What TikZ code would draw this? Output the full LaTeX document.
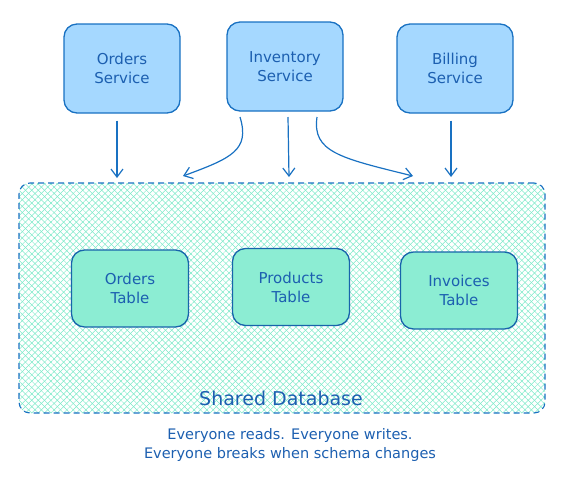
\documentclass[tikz,border=0pt]{standalone}
\usepackage{fontspec}
\setmainfont{DejaVu Sans}
\usetikzlibrary{arrows.meta,patterns.meta,calc}
\definecolor{svcfill}{HTML}{A5D8FF}
\definecolor{edge}{HTML}{1971C2}
\definecolor{tabfill}{HTML}{8CEDD3}
\definecolor{tabedge}{HTML}{1864AB}
\definecolor{hatch}{HTML}{7BE9C8}
\definecolor{txt}{HTML}{1C5FB0}
\begin{document}
\begin{tikzpicture}[x=1pt,y=-1pt,
  svc/.style={draw=edge,line width=1.3pt,fill=svcfill,rounded corners=13pt,minimum width=116pt,minimum height=89pt,align=center,text=txt,font=\fontsize{15}{19}\selectfont},
  tbl/.style={draw=tabedge,line width=1.3pt,fill=tabfill,rounded corners=13pt,minimum width=117pt,minimum height=77pt,align=center,text=txt,font=\fontsize{15}{19}\selectfont},
  arr/.style={draw=edge,line width=1.2pt,-{Straight Barb[length=8pt,width=12pt,line width=1.2pt]}},
  note/.style={text=txt,font=\fontsize{14.5}{19}\selectfont,align=center}]
\useasboundingbox (0,0) rectangle (575,483);
% shared database
\path[pattern={Lines[angle=45,distance=4.5pt,line width=0.5pt]},pattern color=hatch,rounded corners=11pt] (19,183) rectangle (545,413);
\path[pattern={Lines[angle=-45,distance=4.5pt,line width=0.5pt]},pattern color=hatch,rounded corners=11pt] (19,183) rectangle (545,413);
\node[draw=edge,dash pattern=on 6pt off 4pt,line width=1.1pt,rounded corners=11pt,minimum width=526pt,minimum height=230pt,inner sep=0pt] (db) at (282,298) {};
\node[text=txt,font=\fontsize{19}{22}\selectfont] (dblabel) at (281,398) {Shared Database};
% services
\node[svc] (os) at (122,68.5) {Orders\\Service};
\node[svc] (is) at (285,66.5) {Inventory\\Service};
\node[svc] (bs) at (455,68.5) {Billing\\Service};
% tables
\node[tbl] (ot) at (130,288.5) {Orders\\Table};
\node[tbl] (pt) at (291,287) {Products\\Table};
\node[tbl] (it) at (459,290.5) {Invoices\\Table};
% arrow end points
\coordinate (e1) at (117,178);
\coordinate (e2) at (183,176);
\coordinate (e3) at (289,177);
\coordinate (e4) at (413,176);
\coordinate (e5) at (451,177);
\coordinate (s2) at (240,117);
\coordinate (s3) at (288,117);
\coordinate (s4) at (317,117);
\draw[arr] ($(os.south)+(-5,7)$) -- (e1);
\draw[arr] (s2) .. controls (250,150) and (232,158) .. (e2);
\draw[arr] (s3) -- (e3);
\draw[arr] (s4) .. controls (312,152) and (340,158) .. (e4);
\draw[arr] ($(bs.south)+(-4,7)$) -- (e5);
% note
\node[note] (n1) at (290,435) {Everyone reads. Everyone writes.};
\node[note] (n2) at (290,454) {Everyone breaks when schema changes};
\end{tikzpicture}
\end{document}
